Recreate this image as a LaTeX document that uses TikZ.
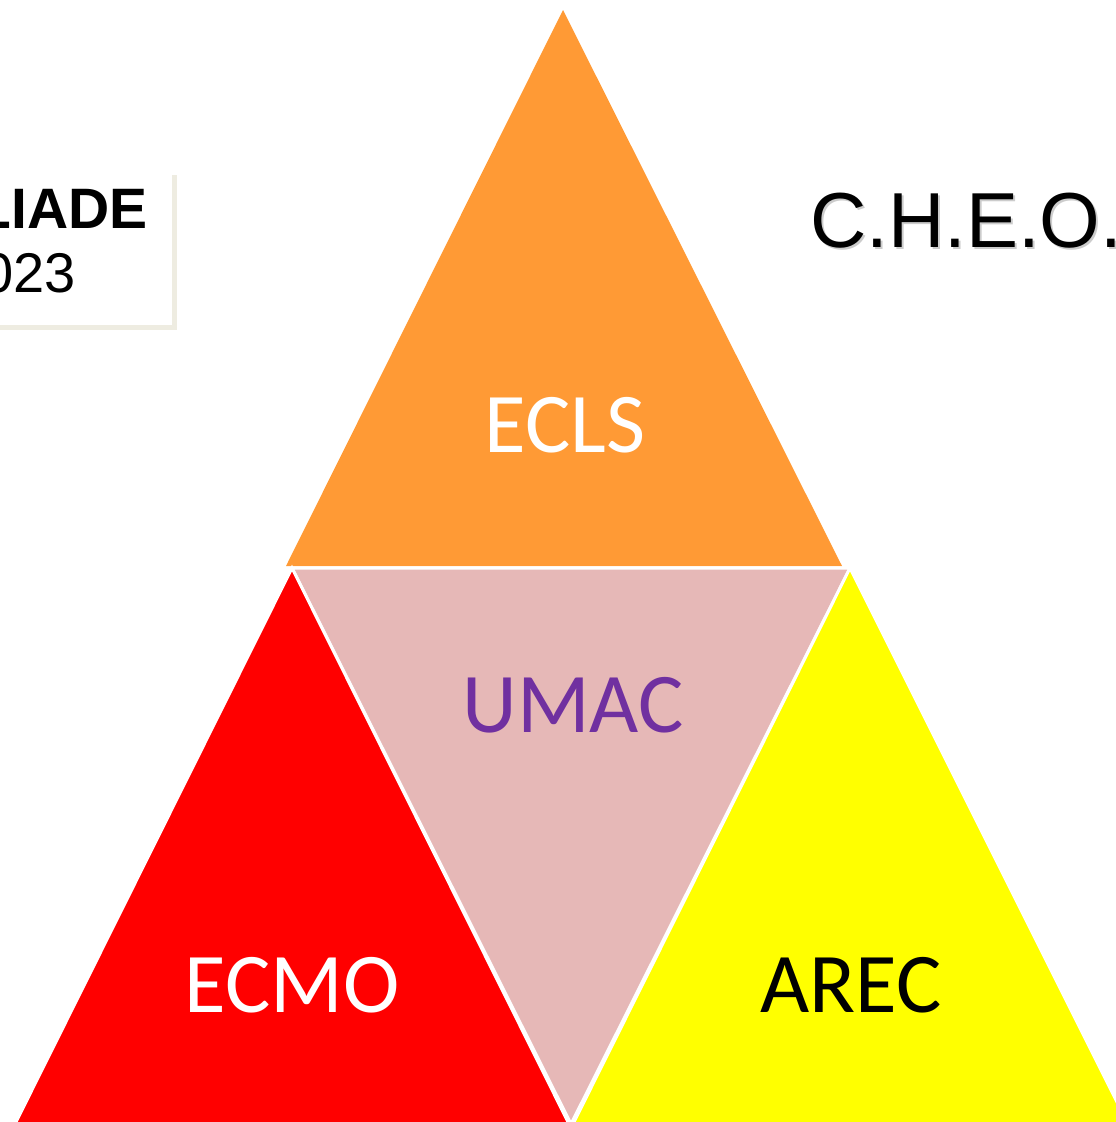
\documentclass[tikz,border=0pt]{standalone}
\usepackage{fontspec}
\setmainfont{Liberation Sans}
\newfontfamily\calib{Carlito}
\definecolor{orangeT}{HTML}{FF9A35}
\definecolor{pinkT}{HTML}{E6B8B7}
\definecolor{redT}{HTML}{FF0000}
\definecolor{yellowT}{HTML}{FFFF00}
\definecolor{purpleT}{HTML}{7030A0}
\definecolor{shadowB}{HTML}{EEECE1}
\begin{document}
\begin{tikzpicture}[x=1pt,y=-1pt,
  tri/.style={draw=white,line width=3pt,line join=miter},
  lbl/.style={font=\calib\fontsize{85}{88}\selectfont,anchor=base,inner sep=0pt}]
\useasboundingbox (0,0) rectangle (1116,1122);
\clip (0,0) rectangle (1116,1122);
% top-left box
\fill[shadowB] (-10,175) rectangle (177,330);
\fill[white] (-10,170) rectangle (172,325);
\node[anchor=base east,inner sep=0pt,font=\bfseries\fontsize{57}{60}\selectfont] (liade) at (148,228) {LIADE};
\node[anchor=base east,inner sep=0pt,font=\fontsize{56}{60}\selectfont] (yr) at (76,292) {023};
% C.H.E.O.
\node[anchor=base west,inner sep=0pt,font=\fontsize{78}{82}\selectfont,text=black!20] (cheos) at (812,249) {C.H.E.O.I};
\node[anchor=base west,inner sep=0pt,font=\fontsize{78}{82}\selectfont] (cheo) at (810,247) {C.H.E.O.I};
% triangles
\fill[orangeT] (563,10) -- (286,566) -- (842,566) -- cycle;
\filldraw[tri,fill=pinkT] (292,568) -- (850,568) -- (571,1124) -- cycle;
\filldraw[tri,fill=redT] (292,568) -- (15,1124) -- (569,1124) -- cycle;
\filldraw[tri,fill=yellowT] (850,568) -- (573,1124) -- (1128,1124) -- cycle;
% labels
\node[lbl,text=white] (ecls) at (565,452) {ECLS};
\node[lbl,text=purpleT] (umac) at (573,732) {UMAC};
\node[lbl,text=white] (ecmo) at (292,1012) {ECMO};
\node[lbl,text=black] (arec) at (851,1012) {AREC};
\end{tikzpicture}
\end{document}
